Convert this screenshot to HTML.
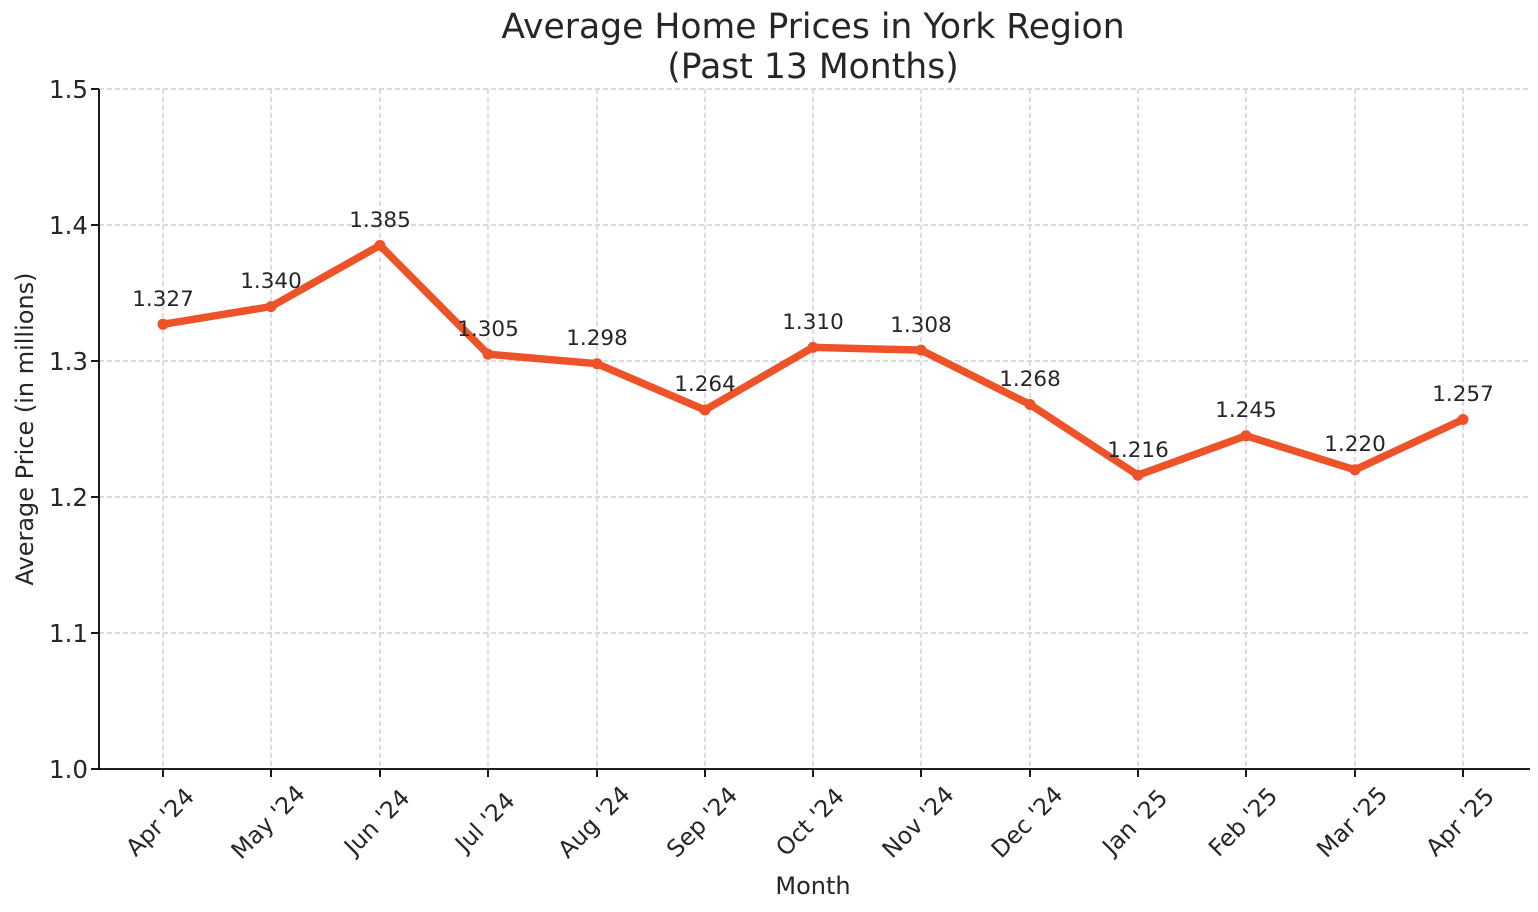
<!DOCTYPE html>
<html><head><meta charset="utf-8"><style>body{margin:0;background:#fff}svg{display:block}text{font-family:"DejaVu Sans","Liberation Sans",sans-serif;fill:#262626}</style></head>
<body>
<svg width="1538" height="912" viewBox="0 0 1538 912" xmlns="http://www.w3.org/2000/svg">
<rect width="1538" height="912" fill="#fff"/>
<g stroke="#c8c8c8" stroke-width="1.2" stroke-dasharray="5,3">
<line x1="99" x2="1530" y1="89" y2="89"/><line x1="99" x2="1530" y1="225" y2="225"/><line x1="99" x2="1530" y1="361" y2="361"/><line x1="99" x2="1530" y1="497" y2="497"/><line x1="99" x2="1530" y1="633" y2="633"/>
<line x1="163" x2="163" y1="89" y2="769"/><line x1="271" x2="271" y1="89" y2="769"/><line x1="380" x2="380" y1="89" y2="769"/><line x1="488" x2="488" y1="89" y2="769"/><line x1="597" x2="597" y1="89" y2="769"/><line x1="705" x2="705" y1="89" y2="769"/><line x1="813" x2="813" y1="89" y2="769"/><line x1="921" x2="921" y1="89" y2="769"/><line x1="1030" x2="1030" y1="89" y2="769"/><line x1="1138" x2="1138" y1="89" y2="769"/><line x1="1246" x2="1246" y1="89" y2="769"/><line x1="1355" x2="1355" y1="89" y2="769"/><line x1="1463" x2="1463" y1="89" y2="769"/>
</g>
<g stroke="#000" stroke-width="1.8">
<line x1="99" x2="99" y1="89" y2="769"/><line x1="99" x2="1530" y1="769" y2="769"/>
<line x1="91" x2="99" y1="89" y2="89"/><line x1="91" x2="99" y1="225" y2="225"/><line x1="91" x2="99" y1="361" y2="361"/><line x1="91" x2="99" y1="497" y2="497"/><line x1="91" x2="99" y1="633" y2="633"/><line x1="91" x2="99" y1="769" y2="769"/>
<line x1="163" x2="163" y1="769" y2="777"/><line x1="271" x2="271" y1="769" y2="777"/><line x1="380" x2="380" y1="769" y2="777"/><line x1="488" x2="488" y1="769" y2="777"/><line x1="597" x2="597" y1="769" y2="777"/><line x1="705" x2="705" y1="769" y2="777"/><line x1="813" x2="813" y1="769" y2="777"/><line x1="921" x2="921" y1="769" y2="777"/><line x1="1030" x2="1030" y1="769" y2="777"/><line x1="1138" x2="1138" y1="769" y2="777"/><line x1="1246" x2="1246" y1="769" y2="777"/><line x1="1355" x2="1355" y1="769" y2="777"/><line x1="1463" x2="1463" y1="769" y2="777"/>
</g>
<g font-size="24.5" text-anchor="end">
<text x="88" y="98">1.5</text><text x="88" y="234">1.4</text><text x="88" y="370">1.3</text><text x="88" y="506">1.2</text><text x="88" y="642">1.1</text><text x="88" y="778">1.0</text>
</g>
<g font-size="23.5" text-anchor="middle" dominant-baseline="central">
<text transform="translate(160,822) rotate(-45)">Apr '24</text>
<text transform="translate(268,822) rotate(-45)">May '24</text>
<text transform="translate(377,822) rotate(-45)">Jun '24</text>
<text transform="translate(485,822) rotate(-45)">Jul '24</text>
<text transform="translate(594,822) rotate(-45)">Aug '24</text>
<text transform="translate(702,822) rotate(-45)">Sep '24</text>
<text transform="translate(810,822) rotate(-45)">Oct '24</text>
<text transform="translate(918,822) rotate(-45)">Nov '24</text>
<text transform="translate(1027,822) rotate(-45)">Dec '24</text>
<text transform="translate(1135,822) rotate(-45)">Jan '25</text>
<text transform="translate(1243,822) rotate(-45)">Feb '25</text>
<text transform="translate(1352,822) rotate(-45)">Mar '25</text>
<text transform="translate(1460,822) rotate(-45)">Apr '25</text>
</g>
<text x="813" y="894" font-size="24" text-anchor="middle">Month</text>
<text transform="translate(33,429) rotate(-90)" font-size="24" text-anchor="middle">Average Price (in millions)</text>
<text x="813" y="38" font-size="34.6" text-anchor="middle">Average Home Prices in York Region</text>
<text x="813" y="78" font-size="34.6" text-anchor="middle">(Past 13 Months)</text>
<polyline fill="none" stroke="#ee5228" stroke-width="7.5" stroke-linejoin="round" points="163,324.3 271,306.6 380,245.4 488,354.2 597,363.7 705,410 813,347.4 921,350.1 1030,404.5 1138,475.2 1246,435.8 1355,469.8 1463,419.5"/>
<g fill="#ee5228">
<circle cx="163" cy="324.3" r="5.5"/><circle cx="271" cy="306.6" r="5.5"/><circle cx="380" cy="245.4" r="5.5"/><circle cx="488" cy="354.2" r="5.5"/><circle cx="597" cy="363.7" r="5.5"/><circle cx="705" cy="410" r="5.5"/><circle cx="813" cy="347.4" r="5.5"/><circle cx="921" cy="350.1" r="5.5"/><circle cx="1030" cy="404.5" r="5.5"/><circle cx="1138" cy="475.2" r="5.5"/><circle cx="1246" cy="435.8" r="5.5"/><circle cx="1355" cy="469.8" r="5.5"/><circle cx="1463" cy="419.5" r="5.5"/>
</g>
<g font-size="21.5" text-anchor="middle">
<text x="163" y="306">1.327</text><text x="271" y="288">1.340</text><text x="380" y="227">1.385</text><text x="488" y="336">1.305</text><text x="597" y="345">1.298</text><text x="705" y="391">1.264</text><text x="813" y="329">1.310</text><text x="921" y="332">1.308</text><text x="1030" y="386">1.268</text><text x="1138" y="457">1.216</text><text x="1246" y="417">1.245</text><text x="1355" y="451">1.220</text><text x="1463" y="401">1.257</text>
</g>
</svg>
</body></html>
